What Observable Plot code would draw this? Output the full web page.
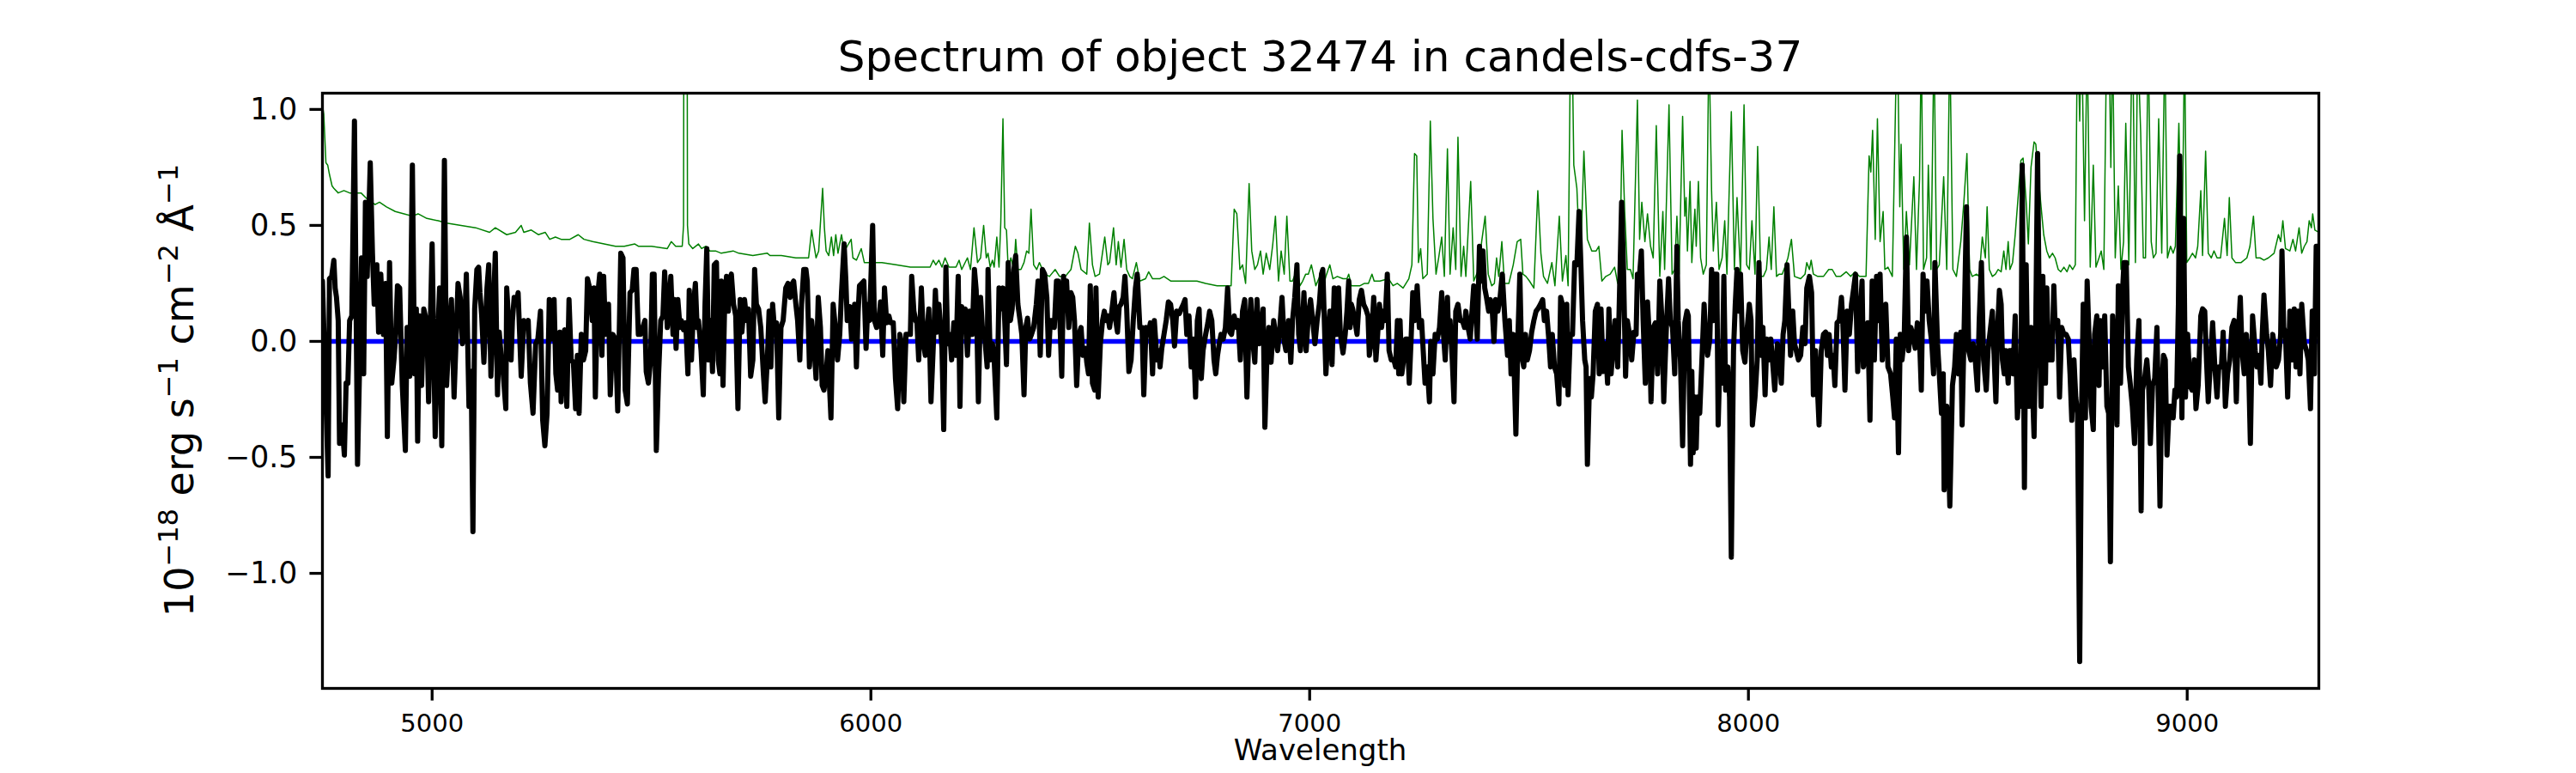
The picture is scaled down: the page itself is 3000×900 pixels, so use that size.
<!DOCTYPE html>
<html><head><meta charset="utf-8">
<script src="https://cdn.jsdelivr.net/npm/d3@7"></script>
<script src="https://cdn.jsdelivr.net/npm/@observablehq/plot@0.6"></script>
<style>
html,body{margin:0;padding:0;background:#fff;}
svg{display:block;}
</style></head><body>
<script>
const title = "Spectrum of object 32474 in candels-cdfs-37";
const xLabel = "Wavelength";
const xTicks = [5000, 6000, 7000, 8000, 9000];
const yTicks = [-1.0, -0.5, 0.0, 0.5, 1.0];
const xDomain = [4750, 9300];
const yDomain = [-1.496, 1.07];

// continuum model (blue)
const continuum = [[4750, 0], [9300, 0]];

// observed flux (black)
const spectrum = [
[4750,0.26],[4763,-0.58],[4766,0.27],[4771,0.28],[4776,0.35],[4779,0.23],[4782,0.19],[4786,0.09],[4789,-0.44],[4795,-0.36],[4800,-0.49],[4804,-0.18],[4808,-0.18],[4812,0.09],[4817,0.11],[4823,0.95],[4830,-0.53],[4835,-0.08],[4839,0.36],[4844,-0.14],[4848,0.60],[4852,0.28],[4859,0.77],[4864,0.38],[4868,0.16],[4874,0.33],[4878,0.04],[4883,0.29],[4889,0.03],[4894,0.25],[4898,-0.41],[4903,0.34],[4908,-0.18],[4913,-0.08],[4917,0.03],[4921,0.24],[4926,0.23],[4932,-0.19],[4939,-0.47],[4943,0.06],[4949,-0.15],[4955,0.76],[4960,-0.14],[4964,0.14],[4967,-0.43],[4971,0.11],[4976,-0.19],[4981,0.14],[4988,0.08],[4992,-0.26],[5000,0.42],[5007,-0.41],[5013,0.03],[5017,0.23],[5022,-0.45],[5028,0.78],[5033,-0.19],[5039,0.04],[5044,0.18],[5050,-0.24],[5055,0.03],[5059,0.25],[5064,0.19],[5069,-0.01],[5074,0.06],[5078,0.29],[5084,-0.28],[5089,-0.13],[5093,-0.82],[5097,0.14],[5102,0.31],[5106,0.32],[5109,0.21],[5113,0.11],[5118,-0.09],[5125,0.23],[5129,0.33],[5134,-0.15],[5139,0.11],[5144,0.38],[5149,-0.23],[5153,0.04],[5158,-0.08],[5162,-0.14],[5168,-0.29],[5170,0.23],[5176,0.03],[5180,-0.08],[5183,0.09],[5187,0.19],[5192,0.16],[5196,0.21],[5203,-0.15],[5209,0.09],[5214,0.06],[5219,0.09],[5224,-0.18],[5230,-0.31],[5236,-0.01],[5241,0.01],[5247,0.13],[5252,-0.34],[5257,-0.45],[5262,-0.31],[5267,0.18],[5271,0.01],[5278,0.18],[5282,-0.14],[5286,-0.21],[5291,0.04],[5294,-0.26],[5299,0.01],[5302,0.05],[5307,-0.28],[5312,0.18],[5317,-0.08],[5322,-0.09],[5327,-0.29],[5331,-0.06],[5335,-0.31],[5340,0.03],[5345,-0.08],[5350,-0.04],[5354,0.27],[5359,0.23],[5365,0.09],[5369,0.23],[5372,-0.24],[5377,0.19],[5382,0.29],[5387,-0.06],[5391,0.28],[5395,0.03],[5402,0.16],[5406,-0.23],[5412,0.03],[5418,0.01],[5423,-0.30],[5430,0.38],[5435,0.36],[5440,-0.21],[5445,-0.27],[5451,0.21],[5456,0.22],[5460,0.31],[5465,0.31],[5470,0.03],[5475,0.03],[5485,0.09],[5488,-0.13],[5493,-0.18],[5498,-0.08],[5502,0.29],
[5506,0.29],[5511,-0.47],[5516,-0.15],[5521,0.09],[5526,0.11],[5530,0.30],[5536,0.06],[5540,0.16],[5544,0.28],[5549,0.03],[5552,0.18],[5556,-0.03],[5560,0.18],[5565,0.06],[5568,0.09],[5573,0.05],[5578,0.08],[5583,-0.14],[5586,0.22],[5591,-0.08],[5596,0.16],[5600,0.25],[5604,0.06],[5607,0.09],[5613,-0.04],[5618,-0.23],[5622,0.16],[5626,0.40],[5630,-0.08],[5635,0.09],[5639,-0.13],[5643,0.33],[5648,0.34],[5652,-0.08],[5656,-0.14],[5659,0.26],[5663,-0.19],[5667,0.19],[5671,0.28],[5675,0.13],[5678,0.26],[5682,0.29],[5687,0.16],[5692,0.11],[5697,-0.29],[5702,0.18],[5706,0.04],[5712,0.18],[5717,0.09],[5721,0.14],[5726,-0.15],[5731,-0.08],[5735,0.31],[5739,0.16],[5744,0.14],[5749,0.06],[5755,-0.14],[5759,-0.26],[5764,-0.08],[5768,0.13],[5772,-0.11],[5776,0.16],[5780,0.06],[5785,0.08],[5790,-0.33],[5795,0.06],[5800,0.09],[5806,0.23],[5811,0.25],[5816,0.19],[5821,0.25],[5824,0.26],[5829,0.16],[5833,0.09],[5838,-0.08],[5842,0.16],[5847,0.31],[5852,0.31],[5855,0.26],[5860,-0.11],[5865,0.09],[5870,-0.01],[5875,-0.16],[5880,0.19],[5885,0.06],[5889,-0.19],[5893,-0.21],[5897,-0.16],[5902,-0.04],[5909,-0.33],[5914,0.16],[5919,0.06],[5924,-0.08],[5929,0.03],[5933,0.21],[5939,0.42],[5943,0.26],[5946,0.09],[5952,0.15],[5956,0.01],[5959,0.06],[5963,0.16],[5967,-0.11],[5971,0.13],[5974,0.24],[5979,0.25],[5984,0.26],[5989,-0.03],[5993,0.16],[5997,0.09],[6004,0.50],[6008,0.09],[6013,0.06],[6018,0.09],[6022,0.17],[6027,-0.06],[6031,0.23],[6036,0.08],[6041,0.11],[6045,0.08],[6051,0.08],[6056,-0.16],[6061,-0.29],[6066,0.03],[6070,-0.01],[6075,-0.26],[6080,0.03],[6085,0.03],[6090,0.03],[6093,0.28],[6098,0.13],[6102,0.09],[6105,0.08],[6109,-0.08],[6115,0.23],[6120,-0.01],[6124,-0.06],[6128,0.04],[6132,0.14],[6137,-0.26],[6142,-0.03],[6147,0.22],[6151,0.04],[6155,0.16],[6162,-0.03],[6166,-0.38],[6171,0.32],[6175,-0.01],[6180,0.03],[6184,-0.08],[6189,0.08],[6194,-0.06],[6199,0.28],[6203,-0.28],[6207,0.15],[6211,0.09],[6215,0.14],[6220,-0.06],[6225,0.13],[6231,0.03],[6236,0.31],[6240,0.22],[6245,-0.26],[6250,0.19],[6254,0.06],[6259,0.03],[6265,-0.11],
[6267,0.31],[6272,-0.08],[6277,-0.01],[6281,-0.08],[6287,-0.33],[6292,0.23],[6296,0.14],[6301,0.23],[6305,0.09],[6309,-0.10],[6313,0.34],[6318,0.09],[6322,0.14],[6326,0.31],[6330,0.37],[6335,0.16],[6340,0.09],[6344,0.03],[6349,-0.23],[6353,0.06],[6357,0.10],[6362,0.01],[6366,0.03],[6371,0.06],[6377,0.16],[6381,0.26],[6386,-0.06],[6391,0.31],[6396,0.29],[6401,0.19],[6405,-0.06],[6409,0.09],[6414,0.09],[6418,0.06],[6423,0.26],[6427,0.26],[6431,0.08],[6435,-0.15],[6439,0.28],[6443,0.16],[6446,0.26],[6451,0.06],[6456,0.21],[6460,0.19],[6464,0.09],[6469,-0.19],[6474,0.03],[6479,0.06],[6483,-0.06],[6489,-0.03],[6492,-0.09],[6496,-0.14],[6500,0.24],[6505,-0.18],[6510,-0.21],[6513,0.23],[6518,-0.24],[6523,-0.01],[6528,0.09],[6532,0.13],[6536,0.09],[6540,0.11],[6544,0.06],[6549,0.13],[6554,0.21],[6558,0.09],[6562,0.04],[6566,0.15],[6570,0.16],[6575,0.19],[6579,0.28],[6583,0.14],[6588,-0.13],[6593,-0.08],[6598,0.09],[6603,0.23],[6607,0.29],[6613,0.06],[6618,0.06],[6622,-0.23],[6627,0.06],[6632,0.03],[6637,0.08],[6642,-0.14],[6646,0.09],[6652,-0.08],[6656,-0.04],[6659,-0.11],[6663,-0.03],[6668,0.03],[6673,0.09],[6678,0.17],[6683,0.16],[6688,0.09],[6692,-0.02],[6697,0.13],[6703,0.12],[6707,0.14],[6712,0.16],[6716,0.18],[6720,0.03],[6725,0.11],[6730,-0.11],[6735,0.01],[6740,-0.24],[6744,0.09],[6748,0.14],[6753,-0.16],[6757,-0.04],[6763,0.03],[6768,0.08],[6772,0.13],[6777,0.09],[6782,-0.08],[6786,-0.14],[6790,-0.06],[6794,-0.01],[6798,0.03],[6803,0.01],[6808,0.06],[6813,0.23],[6818,0.04],[6822,0.03],[6828,0.11],[6833,0.06],[6837,0.09],[6842,-0.08],[6847,0.13],[6852,0.18],[6857,-0.24],[6862,0.06],[6866,0.18],[6870,0.01],[6875,-0.09],[6880,0.18],[6885,-0.01],[6890,0.06],[6894,0.14],[6898,-0.37],[6903,-0.04],[6907,0.06],[6912,-0.09],[6918,0.09],[6922,0.03],[6927,-0.04],[6932,0.06],[6937,0.19],[6942,0.00],[6946,-0.04],[6952,0.09],[6957,-0.09],[6961,0.09],[6966,0.19],[6971,0.33],[6975,0.03],[6979,-0.04],[6983,0.06],[6987,0.21],[6992,-0.04],[6997,0.11],[7002,0.18],[7007,0.09],[7012,-0.01],[7017,0.09],[7022,0.16],[7027,0.29],
[7030,0.31],[7037,-0.14],[7042,0.03],[7046,0.13],[7051,-0.10],[7056,0.23],[7061,0.03],[7066,0.23],[7070,0.03],[7076,-0.05],[7081,0.03],[7085,0.13],[7089,0.26],[7092,0.06],[7095,0.16],[7098,0.14],[7103,0.09],[7108,0.03],[7113,0.18],[7118,0.22],[7123,0.16],[7128,0.14],[7133,0.11],[7136,-0.06],[7141,0.01],[7146,0.19],[7151,-0.08],[7155,0.03],[7159,0.16],[7164,0.06],[7167,0.13],[7172,0.09],[7177,0.29],[7181,-0.04],[7186,-0.08],[7192,-0.08],[7196,-0.11],[7200,0.09],[7203,-0.14],[7206,0.09],[7210,-0.14],[7214,-0.08],[7219,0.01],[7223,0.01],[7227,-0.18],[7231,0.00],[7235,0.21],[7240,0.09],[7245,0.24],[7250,0.06],[7255,0.09],[7260,-0.08],[7263,-0.18],[7268,-0.11],[7273,-0.26],[7276,0.00],[7281,-0.14],[7286,0.03],[7291,0.01],[7296,0.06],[7301,0.21],[7305,0.03],[7309,-0.08],[7314,0.19],[7317,0.00],[7320,0.09],[7325,-0.08],[7329,-0.26],[7333,0.13],[7338,0.16],[7343,0.09],[7348,0.09],[7353,0.06],[7356,0.13],[7361,0.06],[7366,0.01],[7370,0.13],[7374,0.24],[7378,0.16],[7382,0.01],[7387,0.41],[7391,0.26],[7395,0.39],[7399,0.23],[7403,0.19],[7408,0.13],[7412,0.18],[7416,0.14],[7420,0.00],[7424,0.18],[7429,0.13],[7434,0.19],[7439,0.29],[7445,0.09],[7451,-0.06],[7455,0.09],[7459,-0.14],[7464,0.03],[7470,-0.40],[7475,0.04],[7479,0.29],[7483,-0.06],[7488,-0.11],[7492,0.03],[7496,-0.08],[7501,-0.04],[7506,0.04],[7511,0.09],[7516,0.13],[7520,0.14],[7526,0.16],[7531,0.18],[7535,0.09],[7540,0.13],[7545,0.01],[7549,-0.11],[7553,0.03],[7558,-0.11],[7563,-0.14],[7568,-0.27],[7572,0.19],[7576,0.16],[7581,-0.19],[7586,0.16],[7589,-0.23],[7594,0.03],[7599,0.03],[7604,0.34],[7609,0.33],[7614,0.56],[7618,0.34],[7622,0.09],[7627,-0.08],[7630,-0.11],[7633,-0.53],[7638,-0.16],[7642,-0.24],[7646,-0.14],[7651,0.13],[7656,0.16],[7660,-0.14],[7664,0.14],[7669,-0.13],[7674,-0.01],[7679,-0.18],[7682,0.14],[7687,-0.14],[7692,-0.01],[7696,0.09],[7702,-0.11],[7705,0.11],[7711,0.60],[7715,0.34],[7720,-0.15],[7724,0.09],[7729,0.03],[7734,-0.08],[7739,0.04],[7744,0.03],[7747,0.29],[7752,0.29],[7756,0.39],[7760,0.09],[7765,-0.18],[7770,0.17],[7775,-0.01],[7778,-0.26],[7783,0.06],[7788,0.08],
[7793,-0.14],[7798,0.26],[7803,0.09],[7807,-0.26],[7813,0.06],[7818,0.27],[7822,0.09],[7827,0.06],[7832,-0.14],[7837,0.41],[7840,0.09],[7845,-0.08],[7850,-0.45],[7855,0.08],[7860,0.13],[7863,0.11],[7868,-0.53],[7871,-0.13],[7874,-0.48],[7878,-0.24],[7881,-0.46],[7884,-0.24],[7889,-0.31],[7894,-0.08],[7899,0.16],[7903,0.01],[7907,-0.06],[7912,0.01],[7916,0.31],[7920,0.09],[7923,0.29],[7928,0.29],[7931,-0.36],[7935,-0.08],[7940,-0.18],[7944,0.28],[7948,-0.21],[7953,-0.11],[7957,-0.24],[7961,-0.93],[7966,-0.04],[7970,0.16],[7974,0.31],[7979,0.13],[7982,0.29],[7987,-0.04],[7992,-0.09],[7996,0.03],[8002,0.16],[8006,0.09],[8009,-0.36],[8015,-0.24],[8020,-0.08],[8024,0.34],[8029,-0.06],[8033,0.06],[8038,-0.23],[8042,0.01],[8047,-0.08],[8051,0.01],[8056,-0.11],[8060,-0.21],[8066,-0.01],[8070,-0.04],[8075,-0.18],[8079,0.03],[8083,0.09],[8088,0.33],[8092,0.13],[8096,-0.06],[8101,0.13],[8105,-0.01],[8109,-0.04],[8114,-0.08],[8119,-0.06],[8124,0.06],[8129,-0.01],[8133,0.23],[8139,0.28],[8144,0.21],[8148,-0.23],[8153,-0.04],[8157,-0.19],[8161,-0.36],[8166,-0.04],[8171,0.03],[8176,0.04],[8180,-0.06],[8184,0.03],[8189,-0.11],[8193,-0.06],[8197,-0.19],[8202,0.08],[8207,0.09],[8212,0.19],[8215,0.09],[8220,-0.21],[8225,0.13],[8230,0.03],[8235,0.16],[8240,0.23],[8244,0.29],[8249,-0.13],[8255,0.13],[8259,0.26],[8262,-0.11],[8268,-0.04],[8272,0.08],[8277,-0.34],[8282,0.26],[8287,-0.08],[8292,0.28],[8296,0.09],[8300,0.29],[8305,-0.08],[8309,0.09],[8313,0.16],[8318,-0.11],[8324,-0.14],[8329,-0.24],[8333,-0.33],[8337,0.01],[8342,-0.48],[8346,0.03],[8350,-0.08],[8355,0.01],[8360,0.45],[8365,-0.04],[8370,0.06],[8375,0.03],[8380,-0.03],[8385,0.08],[8390,0.01],[8394,-0.21],[8398,0.29],[8403,0.13],[8407,0.26],[8412,0.09],[8418,-0.01],[8422,-0.14],[8425,0.34],[8431,-0.01],[8435,-0.14],[8440,-0.31],[8444,-0.14],[8446,-0.64],[8452,-0.28],[8455,-0.41],[8459,-0.71],[8465,-0.19],[8470,-0.11],[8474,0.03],[8479,-0.14],[8484,0.04],[8487,-0.36],[8492,0.09],[8497,0.58],[8502,-0.04],[8507,-0.08],[8512,-0.01],[8517,-0.08],[8522,-0.21],[8526,0.09],[8531,0.34],[8536,-0.08],[8542,-0.21],[8546,-0.04],
[8556,0.13],[8564,-0.26],[8568,0.06],[8572,0.22],[8576,0.16],[8579,-0.08],[8583,-0.14],[8587,-0.04],[8592,-0.18],[8595,-0.04],[8599,-0.04],[8603,-0.14],[8608,0.11],[8613,-0.33],[8618,-0.18],[8621,-0.28],[8624,0.76],[8629,-0.63],[8633,0.33],[8636,-0.08],[8639,-0.28],[8644,0.06],[8647,-0.18],[8651,-0.41],[8655,0.09],[8659,0.81],[8663,0.09],[8667,-0.28],[8671,0.28],[8673,0.09],[8677,-0.18],[8680,0.23],[8684,-0.08],[8688,0.06],[8692,-0.08],[8696,0.24],[8699,0.06],[8705,0.09],[8709,-0.24],[8714,0.06],[8719,0.03],[8724,0.03],[8729,0.01],[8733,-0.14],[8737,-0.34],[8742,-0.08],[8746,-0.24],[8750,-0.31],[8755,-1.38],[8759,-0.34],[8763,0.16],[8768,-0.33],[8772,0.26],[8778,-0.08],[8781,-0.28],[8786,-0.38],[8789,0.03],[8794,0.11],[8799,-0.19],[8802,0.09],[8807,-0.11],[8812,0.11],[8817,-0.28],[8821,-0.31],[8825,-0.95],[8830,0.11],[8835,-0.04],[8840,-0.36],[8843,0.24],[8848,-0.18],[8853,0.23],[8856,0.34],[8861,0.34],[8866,-0.11],[8870,-0.18],[8875,-0.28],[8880,-0.44],[8885,-0.08],[8890,0.09],[8895,-0.73],[8898,-0.21],[8903,-0.16],[8908,-0.08],[8912,-0.18],[8916,-0.44],[8921,-0.19],[8926,-0.16],[8931,0.06],[8934,-0.24],[8938,-0.71],[8942,-0.21],[8946,-0.06],[8950,-0.08],[8954,-0.49],[8959,-0.28],[8964,-0.28],[8968,-0.33],[8972,-0.21],[8976,-0.24],[8980,0.16],[8983,0.80],[8988,-0.33],[8992,0.53],[8996,-0.24],[9001,0.03],[9006,-0.19],[9011,-0.21],[9016,-0.08],[9020,-0.29],[9025,-0.19],[9031,0.11],[9035,0.14],[9040,0.13],[9044,-0.08],[9048,-0.26],[9053,-0.08],[9058,0.08],[9063,-0.11],[9068,-0.24],[9072,-0.11],[9078,-0.11],[9082,0.04],[9087,-0.28],[9092,-0.14],[9097,-0.08],[9102,0.06],[9107,0.09],[9112,-0.26],[9115,-0.03],[9121,0.19],[9125,-0.04],[9130,-0.14],[9135,0.03],[9140,-0.11],[9144,-0.44],[9149,0.11],[9155,-0.04],[9159,-0.11],[9164,-0.06],[9168,-0.18],[9171,0.03],[9175,0.20],[9181,0.03],[9185,-0.04],[9190,-0.19],[9195,0.03],[9198,-0.01],[9203,-0.11],[9208,-0.08],[9213,0.03],[9216,0.39],[9220,0.06],[9224,0.03],[9229,-0.24],[9234,0.13],[9239,-0.08],[9244,0.14],[9248,-0.11],[9252,0.13],[9257,-0.14],[9261,0.16],[9267,-0.01],[9272,-0.04],[9276,-0.08],[9281,-0.29],[9285,0.13],[9290,-0.14],[9294,0.41],[9299,0.41]
];

// noise / sky (green)
const noise = [
[4750,1.02],[4753,0.98],[4758,0.77],[4762,0.76],[4766,0.72],[4772,0.67],[4776,0.66],[4786,0.64],[4799,0.65],[4812,0.64],[4838,0.64],[4854,0.61],[4870,0.59],[4880,0.60],[4896,0.58],[4916,0.56],[4936,0.55],[4955,0.54],[4968,0.55],[4988,0.53],[5014,0.52],[5033,0.51],[5066,0.50],[5099,0.49],[5131,0.47],[5144,0.49],[5170,0.46],[5190,0.47],[5203,0.50],[5209,0.47],[5226,0.48],[5242,0.46],[5258,0.47],[5268,0.44],[5281,0.45],[5294,0.44],[5314,0.44],[5333,0.46],[5346,0.44],[5366,0.43],[5392,0.42],[5418,0.41],[5438,0.41],[5462,0.42],[5470,0.41],[5500,0.41],
[5536,0.40],[5545,0.43],[5555,0.41],[5570,0.41],[5573,0.5],[5575,3.0],[5580,3.0],[5582,0.5],[5585,0.42],[5594,0.40],[5607,0.42],[5614,0.40],[5624,0.41],[5633,0.39],[5646,0.39],[5659,0.38],[5686,0.39],[5699,0.38],[5731,0.37],[5764,0.38],[5770,0.37],[5796,0.37],[5829,0.36],[5858,0.36],[5865,0.48],[5869,0.43],[5875,0.36],[5881,0.39],[5890,0.66],[5894,0.49],[5898,0.39],[5904,0.37],[5910,0.45],[5915,0.37],[5920,0.46],[5925,0.38],[5933,0.46],[5939,0.39],[5946,0.41],[5955,0.44],[5959,0.36],[5967,0.35],[5978,0.40],[5985,0.34],[6025,0.34],[6057,0.33],[6090,0.32],[6116,0.32],[6135,0.32],[6142,0.35],[6148,0.33],[6155,0.35],[6162,0.32],[6169,0.36],[6178,0.32],[6194,0.32],[6201,0.35],[6207,0.31],[6220,0.36],[6227,0.31],[6235,0.49],[6243,0.34],[6250,0.36],[6257,0.50],[6263,0.36],
[6267,0.38],[6272,0.32],[6277,0.35],[6281,0.32],[6287,0.45],[6292,0.32],[6296,0.51],[6301,0.96],[6305,0.49],[6309,0.48],[6313,0.31],[6319,0.36],[6326,0.31],[6330,0.44],[6335,0.31],[6342,0.31],[6349,0.34],[6355,0.39],[6360,0.38],[6365,0.57],[6371,0.33],[6378,0.31],[6384,0.34],[6391,0.31],[6397,0.29],[6407,0.28],[6420,0.31],[6430,0.28],[6443,0.28],[6456,0.31],[6466,0.41],[6472,0.38],[6479,0.31],[6492,0.29],[6498,0.51],[6505,0.33],[6511,0.28],[6521,0.29],[6533,0.45],[6540,0.33],[6544,0.34],[6553,0.49],[6559,0.33],[6564,0.43],[6570,0.32],[6577,0.44],[6583,0.31],[6590,0.28],[6596,0.27],[6605,0.34],[6613,0.26],[6626,0.27],[6633,0.30],[6642,0.27],[6658,0.27],[6668,0.28],[6684,0.26],[6697,0.26],[6723,0.26],[6743,0.26],[6763,0.25],[6789,0.24],[6821,0.24],[6828,0.57],[6834,0.55],[6841,0.31],[6847,0.33],[6854,0.25],[6862,0.68],[6868,0.39],[6875,0.31],[6881,0.33],[6888,0.39],[6894,0.29],[6901,0.38],[6909,0.31],[6916,0.42],[6922,0.54],[6929,0.26],[6935,0.39],[6942,0.29],[6948,0.54],[6955,0.26],[6961,0.26],[6971,0.31],[6978,0.24],[6984,0.26],[6991,0.29],[6997,0.29],[7004,0.33],[7014,0.24],[7023,0.28],
[7030,0.23],[7037,0.28],[7046,0.33],[7053,0.27],[7063,0.28],[7076,0.27],[7085,0.27],[7089,0.29],[7095,0.24],[7115,0.24],[7125,0.25],[7134,0.25],[7142,0.29],[7147,0.26],[7160,0.26],[7180,0.27],[7190,0.24],[7200,0.25],[7213,0.23],[7226,0.27],[7233,0.33],[7239,0.81],[7244,0.80],[7248,0.34],[7253,0.40],[7258,0.27],[7268,0.29],[7275,0.95],[7281,0.53],[7288,0.29],[7294,0.36],[7301,0.45],[7307,0.28],[7314,0.83],[7320,0.29],[7327,0.49],[7333,0.31],[7338,0.88],[7345,0.28],[7351,0.41],[7356,0.28],[7367,0.69],[7374,0.26],[7385,0.31],[7392,0.43],[7400,0.54],[7407,0.29],[7415,0.24],[7421,0.25],[7426,0.36],[7431,0.28],[7438,0.43],[7444,0.25],[7454,0.25],[7464,0.33],[7473,0.43],[7481,0.44],[7486,0.29],[7493,0.28],[7501,0.26],[7511,0.23],[7520,0.65],[7527,0.38],[7533,0.28],[7542,0.25],[7552,0.34],[7559,0.24],[7569,0.54],[7576,0.26],[7584,0.37],[7589,0.24],[7596,1.6],[7602,0.76],[7609,0.66],[7617,0.31],[7625,0.82],[7633,0.44],[7643,0.39],[7653,0.39],[7659,0.41],[7666,0.26],[7675,0.28],[7685,0.29],[7695,0.32],[7702,0.25],[7707,0.31],[7712,0.91],[7718,0.56],[7724,0.31],[7731,0.31],[7737,0.27],[7747,1.04],[7752,0.44],[7757,0.60],[7764,0.43],[7770,0.55],[7777,0.41],[7783,0.36],[7790,0.93],
[7798,0.28],[7805,0.56],[7809,0.31],[7819,1.02],[7826,0.29],[7832,0.31],[7837,0.54],[7842,0.29],[7850,0.97],[7855,0.54],[7858,0.62],[7861,0.39],[7867,0.69],[7871,0.34],[7878,0.57],[7881,0.41],[7886,0.69],[7891,0.36],[7897,0.29],[7904,0.33],[7910,1.3],[7916,0.65],[7920,0.39],[7927,0.60],[7933,0.31],[7940,0.36],[7946,0.52],[7951,0.29],[7961,0.99],[7968,0.31],[7974,0.62],[7982,0.29],[7990,1.02],[7996,0.33],[8002,0.31],[8008,0.52],[8015,0.29],[8021,0.84],[8028,0.28],[8034,0.28],[8041,0.31],[8047,0.45],[8052,0.31],[8058,0.58],[8064,0.28],[8070,0.29],[8077,0.29],[8083,0.32],[8090,0.36],[8098,0.44],[8105,0.28],[8119,0.27],[8129,0.29],[8133,0.34],[8139,0.31],[8143,0.35],[8148,0.29],[8158,0.28],[8171,0.28],[8183,0.31],[8191,0.31],[8200,0.28],[8210,0.28],[8223,0.30],[8233,0.28],[8243,0.30],[8253,0.28],[8268,0.28],[8275,0.80],[8279,0.73],[8283,0.91],[8289,0.44],[8294,0.96],[8300,0.43],[8307,0.56],[8311,0.31],[8318,0.32],[8328,0.28],[8339,1.4],[8345,0.58],[8348,0.85],[8354,0.31],[8360,0.56],[8367,0.33],[8377,0.71],[8383,0.31],[8390,0.70],[8394,1.3],[8399,0.31],[8406,0.36],[8410,0.76],[8416,0.31],[8423,1.3],[8429,0.31],[8435,0.33],[8445,0.71],[8452,0.31],[8459,1.3],[8466,0.31],[8474,0.28],[8484,0.43],[8491,0.60],[8498,0.81],[8504,0.31],[8510,0.28],[8520,0.29],[8526,0.28],[8533,0.45],[8540,0.36],[8544,0.58],[8549,0.31],
[8556,0.28],[8563,0.29],[8569,0.31],[8576,0.30],[8582,0.39],[8587,0.31],[8592,0.43],[8596,0.31],[8602,0.34],[8608,0.46],[8615,0.63],[8621,0.78],[8626,0.79],[8633,0.60],[8638,0.42],[8644,0.75],[8651,0.86],[8655,0.85],[8660,0.73],[8667,0.58],[8673,0.46],[8680,0.39],[8686,0.36],[8693,0.38],[8699,0.36],[8706,0.31],[8712,0.30],[8719,0.32],[8726,0.30],[8732,0.33],[8739,0.31],[8745,0.33],[8750,1.4],[8755,0.95],[8759,1.4],[8766,0.52],[8772,1.3],[8779,0.32],[8786,0.76],[8792,0.32],[8799,0.36],[8804,0.39],[8810,0.31],[8817,1.4],[8822,1.3],[8826,0.75],[8830,1.3],[8836,0.36],[8843,0.67],[8849,0.31],[8855,0.43],[8860,0.94],[8867,0.33],[8875,1.4],[8882,0.34],[8887,1.3],[8894,0.90],[8900,0.36],[8905,0.36],[8911,1.3],[8918,0.43],[8923,0.36],[8929,0.38],[8935,0.96],[8942,0.38],[8949,1.3],[8955,0.36],[8962,0.41],[8968,0.38],[8973,0.41],[8981,0.94],[8988,0.36],[8994,1.3],[8999,0.34],[9006,0.36],[9012,0.38],[9019,0.36],[9024,0.41],[9031,0.65],[9035,0.37],[9042,0.82],[9048,0.38],[9055,0.36],[9061,0.39],[9068,0.36],[9076,0.36],[9085,0.53],[9091,0.37],[9096,0.62],[9102,0.36],[9110,0.34],[9123,0.34],[9136,0.36],[9143,0.41],[9151,0.54],[9157,0.36],[9166,0.36],[9175,0.35],[9185,0.36],[9198,0.38],[9208,0.46],[9213,0.43],[9218,0.52],[9224,0.40],[9234,0.39],[9241,0.44],[9247,0.39],[9255,0.49],[9261,0.38],[9267,0.41],[9273,0.43],[9278,0.52],[9283,0.49],[9286,0.55],[9291,0.48],[9300,0.47]
];

const rows = a => a.map(([w, f]) => ({w, f}));
const FONT = "'DejaVu Sans', sans-serif";

const chart = Plot.plot({
  width: 3000,
  height: 900,
  marginLeft: 375,
  marginRight: 300,
  marginTop: 108,
  marginBottom: 99,
  style: {fontFamily: FONT, background: "#fff", color: "#000", overflow: "visible"},
  x: {domain: xDomain},
  y: {domain: yDomain},
  marks: [
    Plot.line(rows(noise), {x: "w", y: "f", stroke: "#008000", strokeWidth: 1.5, clip: true}),
    Plot.line(rows(continuum), {x: "w", y: "f", stroke: "#0000ff", strokeWidth: 5.5, clip: true}),
    Plot.line(rows(spectrum), {x: "w", y: "f", stroke: "#000000", strokeWidth: 6, clip: true}),
    Plot.frame({stroke: "#000", strokeWidth: 3.3}),
    Plot.axisX({ticks: xTicks, tickSize: 14.6, tickPadding: 15, strokeWidth: 3.3, fontSize: 29,
      tickFormat: d => String(d), label: null}),
    Plot.axisY({ticks: yTicks, tickSize: 14.6, tickPadding: 14.6, strokeWidth: 3.3, fontSize: 34.7,
      tickFormat: d => d.toFixed(1).replace("-", "\u2212"), label: null})
  ]
});

document.body.appendChild(chart);

const svg = d3.select(chart);
const cx = (375 + 2700) / 2;

svg.append("text")
  .attr("x", cx).attr("y", 83)
  .attr("text-anchor", "middle")
  .attr("font-family", FONT).attr("font-size", 50).attr("fill", "#000")
  .text(title);

svg.append("text")
  .attr("x", cx).attr("y", 885)
  .attr("text-anchor", "middle")
  .attr("font-family", FONT).attr("font-size", 34).attr("fill", "#000")
  .text(xLabel);

const yl = svg.append("text")
  .attr("transform", `translate(225,${(108 + 801) / 2}) rotate(-90)`)
  .attr("text-anchor", "middle")
  .attr("font-family", FONT).attr("font-size", 46).attr("fill", "#000");
const parts = [
  ["10", false], ["\u221218", true], [" erg s", false], ["\u22121", true],
  [" cm", false], ["\u22122", true], [" \u00C5", false], ["\u22121", true]
];
let up = false;
for (const [t, sup] of parts) {
  const ts = yl.append("tspan").text(t);
  if (sup) {
    ts.attr("font-size", 32).attr("dy", up ? 0 : -18);
    up = true;
  } else {
    ts.attr("dy", up ? 18 : 0);
    up = false;
  }
}
</script>
</body></html>
